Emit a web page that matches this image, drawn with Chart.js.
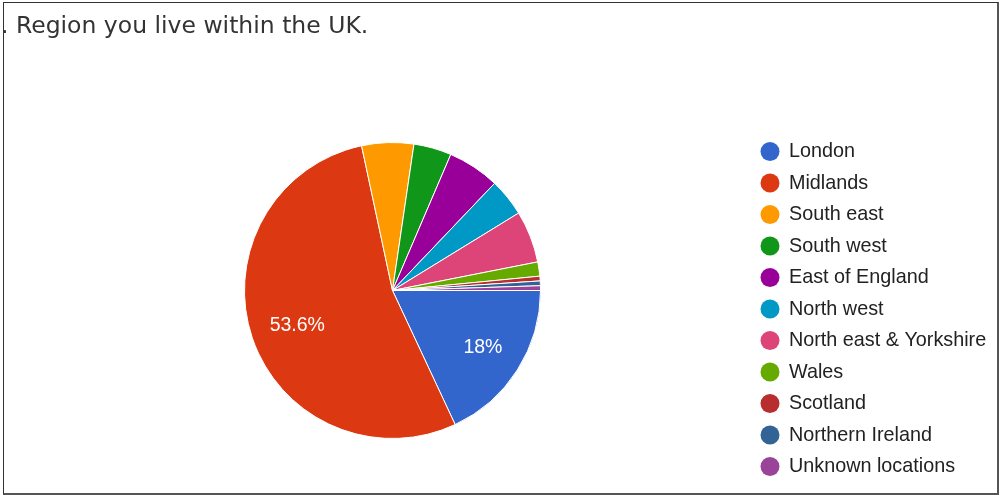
<!DOCTYPE html>
<html>
<head>
<meta charset="utf-8">
<script src="https://cdn.jsdelivr.net/npm/chart.js@4"></script>
<style>
  html, body { margin: 0; padding: 0; background: #fff; }
  #wrap { position: relative; width: 1000px; height: 495px; overflow: hidden; }
  #frame {
    position: absolute; left: 3px; top: 2px; width: 993px; height: 490px;
    border: 1px solid #333; border-right: 2px solid #555; border-bottom: 2px solid #555;
  }
  #title {
    position: absolute; left: 1px; top: 11px;
    font-family: "DejaVu Sans", sans-serif; font-size: 23.5px; color: #333;
    white-space: nowrap;
  }
  #regionChart { position: absolute; left: 0; top: 0; }
</style>
</head>
<body>
<div id="wrap">
  <div id="frame"></div>
  <canvas id="regionChart" width="1000" height="495"></canvas>
  <div id="title">. Region you live within the UK.</div>
</div>
<script>
// Respuestas por región
var regions = ['London', 'Midlands', 'South east', 'South west', 'East of England', 'North west',
  'North east & Yorkshire', 'Wales', 'Scotland', 'Northern Ireland', 'Unknown locations'];
var responses = [35, 104, 11, 8, 11, 8, 11, 3, 1, 1, 1];
var sliceColors = ['#3366CC', '#DC3912', '#FF9900', '#109618', '#990099', '#0099C6',
  '#DD4477', '#66AA00', '#B82E2E', '#316395', '#994499'];

// Porcentaje dentro de las porciones grandes
var sliceLabels = {
  id: 'sliceLabels',
  afterDatasetsDraw: function (chart) {
    var ctx = chart.ctx;
    var data = chart.data.datasets[0].data;
    var total = data.reduce(function (a, b) { return a + b; }, 0);
    chart.getDatasetMeta(0).data.forEach(function (arc, i) {
      var pct = data[i] / total * 100;
      if (pct < 10) return;
      var p = arc.getProps(['x', 'y', 'startAngle', 'endAngle', 'outerRadius'], true);
      var mid = (p.startAngle + p.endAngle) / 2;
      var r = p.outerRadius * 0.7;
      var txt = (Math.round(pct * 10) / 10) + '%';
      ctx.save();
      ctx.fillStyle = '#fff';
      ctx.font = '19.5px "Liberation Sans", Arial, sans-serif';
      ctx.textAlign = 'center';
      ctx.textBaseline = 'middle';
      ctx.fillText(txt, p.x + Math.cos(mid) * r + 3, p.y + Math.sin(mid) * r + 2);
      ctx.restore();
    });
  }
};

// Leyenda a la derecha
var sideLegend = {
  id: 'sideLegend',
  afterDraw: function (chart) {
    var ctx = chart.ctx;
    var colors = chart.data.datasets[0].backgroundColor;
    ctx.save();
    ctx.font = '19.8px "Liberation Sans", Arial, sans-serif';
    ctx.textBaseline = 'middle';
    chart.data.labels.forEach(function (label, i) {
      var y = 151.5 + i * 31.5;
      ctx.fillStyle = colors[i];
      ctx.beginPath();
      ctx.arc(770, y, 9.5, 0, Math.PI * 2);
      ctx.fill();
      ctx.fillStyle = '#222';
      ctx.fillText(label, 789, y + 0.5);
    });
    ctx.restore();
  }
};

var regionCtx = document.getElementById('regionChart').getContext('2d');
var regionChart = new Chart(regionCtx, {
  type: 'pie',
  data: {
    labels: regions,
    datasets: [{
      data: responses,
      backgroundColor: sliceColors,
      borderColor: '#fff',
      borderWidth: 1
    }]
  },
  options: {
    responsive: false,
    animation: false,
    rotation: 90,
    layout: { padding: { left: 244, right: 459, top: 142, bottom: 56 } },
    plugins: {
      legend: { display: false },
      tooltip: { enabled: false }
    }
  },
  plugins: [sliceLabels, sideLegend]
});
</script>
</body>
</html>
